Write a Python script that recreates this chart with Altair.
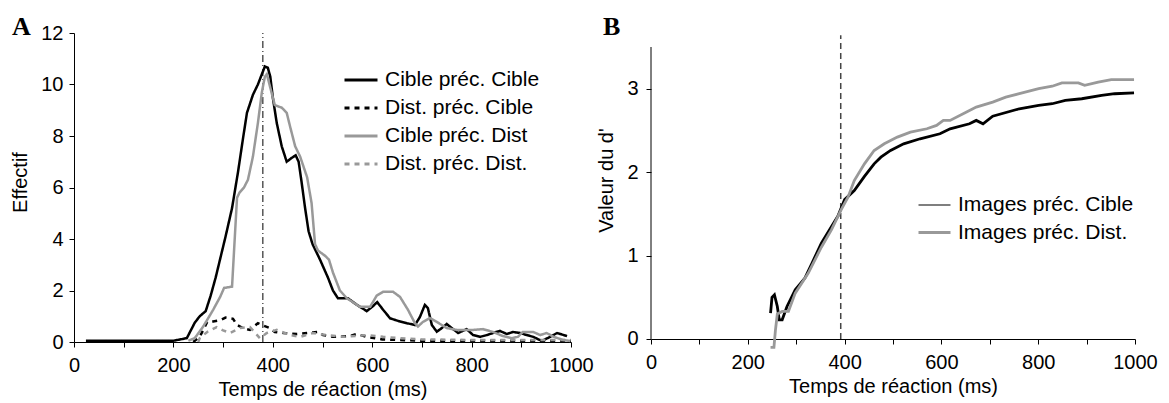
import altair as alt
import pandas as pd

# ---------------- Panel A : distributions of reaction times ----------------
seriesA = ["Cible préc. Cible", "Dist. préc. Cible", "Cible préc. Dist", "Dist. préc. Dist."]

cc_t = [24, 100, 200, 227, 243, 253, 265, 275, 285, 295, 305, 318, 330, 340, 348, 360, 370, 378,
        384, 390, 395, 400, 408, 418, 428, 438, 446, 452, 458, 465, 472, 480, 495, 511, 521, 531,
        551, 565, 575, 589, 602, 610, 622, 636, 652, 670, 686, 696, 706, 712, 720, 730, 740, 750,
        760, 773, 790, 803, 817, 831, 843, 857, 871, 883, 897, 911, 924, 941, 958, 972, 992]
cc_v = [0.05, 0.05, 0.05, 0.15, 0.75, 1.0, 1.2, 1.8, 2.5, 3.3, 4.1, 5.2, 6.6, 7.9, 8.9, 9.6, 10.0, 10.4,
        10.7, 10.65, 10.3, 9.5, 8.5, 7.6, 7.0, 7.15, 7.25, 7.0, 6.2, 5.2, 4.3, 3.8, 3.2, 2.5, 2.0, 1.7,
        1.7, 1.5, 1.37, 1.2, 1.4, 1.55, 1.25, 0.92, 0.82, 0.73, 0.66, 0.97, 1.44, 1.32, 0.66, 0.4, 0.54, 0.7,
        0.54, 0.35, 0.5, 0.27, 0.2, 0.27, 0.35, 0.43, 0.31, 0.39, 0.35, 0.27, 0.2, 0.04, 0.2, 0.35, 0.23]

dc_t = [240, 253, 268, 280, 294, 305, 320, 328, 340, 354, 370, 378, 394, 404, 421, 449, 469, 491,
        501, 521, 555, 569, 589, 620, 650, 700, 800, 900, 1000]
dc_v = [0.0, 0.2, 0.78, 0.8, 0.85, 0.95, 0.9, 0.66, 0.54, 0.47, 0.73, 0.66, 0.54, 0.39, 0.35, 0.31, 0.35, 0.39,
        0.27, 0.2, 0.23, 0.31, 0.2, 0.1, 0.08, 0.05, 0.05, 0.05, 0.05]

cd_t = [230, 243, 260, 280, 294, 302, 318, 328, 333, 342, 350, 360, 370, 378, 384, 388, 396, 404,
        418, 428, 435, 445, 455, 469, 478, 485, 491, 505, 513, 521, 535, 549, 575, 596, 609, 622,
        642, 656, 672, 686, 692, 702, 716, 730, 750, 770, 803, 823, 843, 863, 881, 893, 903, 924,
        938, 951, 965, 984, 998]
cd_v = [0.05, 0.15, 0.6, 1.25, 1.75, 2.1, 2.15, 5.6, 5.8, 6.0, 6.3, 7.2, 8.5, 9.7, 10.3, 10.4, 9.8, 9.2,
        9.1, 8.9, 8.35, 7.6, 7.2, 6.4, 5.4, 3.8, 3.55, 3.35, 3.2, 2.7, 2.0, 1.7, 1.37, 1.37, 1.8, 1.95,
        1.95, 1.75, 1.25, 0.73, 0.6, 0.78, 0.93, 0.78, 0.54, 0.47, 0.47, 0.5, 0.39, 0.23, 0.15, 0.2, 0.39, 0.39,
        0.27, 0.35, 0.2, 0.08, 0.04]

dd_t = [250, 253, 268, 287, 300, 314, 334, 354, 374, 388, 408, 435, 455, 481, 509, 541, 590, 622,
        656, 700, 800, 900, 1000]
dd_v = [0.0, 0.15, 0.39, 0.58, 0.45, 0.35, 0.54, 0.58, 0.15, 0.35, 0.47, 0.27, 0.2, 0.35, 0.27, 0.2, 0.27, 0.2,
        0.15, 0.1, 0.08, 0.08, 0.08]

colorsA = ["#000000", "#000000", "#999999", "#999999"]
dashesA = [[1, 0], [5, 5], [1, 0], [5, 5]]

vlineA_t = [380]
vlineA_top = [12]

# ---------------- Panel B : d' over time ----------------
seriesB = ["Images préc. Cible", "Images préc. Dist."]
bc_t = [247, 250, 255, 261, 265, 271, 281, 298, 318, 332, 352, 373, 386, 400, 420, 441, 461, 475,
        495, 522, 556, 597, 618, 658, 672, 686, 706, 761, 801, 829, 856, 890, 931, 958, 998]
bc_v = [0.31, 0.5, 0.53, 0.39, 0.23, 0.23, 0.39, 0.59, 0.73, 0.9, 1.15, 1.35, 1.47, 1.67, 1.78, 1.95, 2.1, 2.18,
        2.26, 2.34, 2.4, 2.46, 2.52, 2.58, 2.62, 2.58, 2.67, 2.76, 2.8, 2.82, 2.86, 2.88, 2.92, 2.94, 2.95]
bd_t = [247, 254, 257, 261, 271, 284, 298, 325, 352, 373, 393, 407, 420, 441, 461, 482, 509, 536,
        570, 590, 604, 618, 652, 672, 706, 733, 761, 801, 829, 849, 883, 896, 924, 951, 998]
bd_v = [-0.1, -0.1, 0.1, 0.3, 0.33, 0.33, 0.55, 0.79, 1.1, 1.31, 1.55, 1.7, 1.9, 2.1, 2.26, 2.34, 2.42, 2.48,
        2.52, 2.56, 2.62, 2.62, 2.72, 2.78, 2.84, 2.9, 2.94, 3.0, 3.03, 3.07, 3.07, 3.04, 3.08, 3.11, 3.11]
colorsB = ["#000000", "#999999"]
legend_widthsB = [1.2, 3]

vlineB_t = [392]
vlineB_top = [3.64]
axisB_top = [3.5]

# ---------------- build tables ----------------
def table(names, ts, vs):
    rows = []
    for name, t, v in zip(names, ts, vs):
        for i, (a, b) in enumerate(zip(t, v)):
            rows.append({"series": name, "t": a, "v": b, "ord": i})
    return pd.DataFrame(rows)

dfA = table(seriesA, [cc_t, dc_t, cd_t, dd_t], [cc_v, dc_v, cd_v, dd_v])
dfB = table(seriesB, [bc_t, bd_t], [bc_v, bd_v])

FONT = "Liberation Sans"
FS = 20
LFS = 21

def x_axis(offset=0):
    return alt.Axis(values=list(range(0, 1001, 100)), format="d",
                    labelExpr="datum.value % 200 == 0 ? datum.label : ''",
                    title="Temps de réaction (ms)", tickSize=5, labelPadding=8,
                    titlePadding=4, offset=offset, labelFlush=False)

def legend(x, y, size, rp, sw=None):
    kw = dict(title=None, orient="none", legendX=x, legendY=y, symbolType="stroke",
              symbolSize=size, labelFontSize=LFS, labelFont=FONT, labelColor="black",
              labelOffset=6, rowPadding=rp, labelLimit=0)
    if sw is not None:
        kw["symbolStrokeWidth"] = sw
    return alt.Legend(**kw)

# ---- Panel A ----
xA = alt.X("t:Q", scale=alt.Scale(domain=[0, 1000], nice=False), axis=x_axis())
yA = alt.Y("v:Q", scale=alt.Scale(domain=[0, 12], nice=False),
           axis=alt.Axis(values=[0, 2, 4, 6, 8, 10, 12], title="Effectif", tickSize=5,
                         labelPadding=6, titlePadding=10, titleY=149, labelFlush=False))

legA = legend(269, 29, 1089, -8, 3)
linesA = alt.Chart(dfA).mark_line(strokeWidth=2.5, strokeCap="butt").encode(
    x=xA, y=yA, order="ord:Q",
    color=alt.Color("series:N", scale=alt.Scale(domain=seriesA, range=colorsA), legend=legA),
    strokeDash=alt.StrokeDash("series:N", scale=alt.Scale(domain=seriesA, range=dashesA), legend=legA),
)

ruleA = alt.Chart(pd.DataFrame({"t": vlineA_t, "v0": [0], "v1": vlineA_top})).mark_rule(
    color="black", strokeWidth=1, strokeDash=[7, 3, 1, 3]).encode(
    x="t:Q", y="v0:Q", y2="v1:Q")

labA = alt.Chart(pd.DataFrame({"lab": ["A"]})).mark_text(
    font="Liberation Serif", fontWeight="bold", fontSize=26, align="left", baseline="alphabetic",
    color="black").encode(x=alt.value(-62), y=alt.value(2), text="lab:N")

chartA = alt.layer(ruleA, linesA, labA).properties(width=497, height=309)

# ---- Panel B ----
xB = alt.X("t:Q", scale=alt.Scale(domain=[0, 1000], nice=False), axis=x_axis(-3))
yB = alt.Y("v:Q", scale=alt.Scale(domain=[-0.036, 3.668], nice=False, zero=False),
           axis=alt.Axis(values=[0, 0.5, 1, 1.5, 2, 2.5, 3, 3.5], format="d", domain=False,
                         labelExpr="datum.value % 1 == 0 && datum.value < 3.5 ? datum.label : ''",
                         title="Valeur du d'", tickSize=5, labelPadding=8, titlePadding=10,
                         titleY=147, labelFlush=False))

legB = legend(266, 155, 1024, -9)
colorB = alt.Color("series:N", scale=alt.Scale(domain=seriesB, range=colorsB), legend=legB)

linesB = alt.Chart(dfB).mark_line(strokeWidth=2.8, clip=False).encode(
    x=xB, y=yB, order="ord:Q", color=colorB)

legendLayerB = alt.Chart(dfB).transform_filter("datum.t < 0").mark_line().encode(
    x=xB, y=yB, color=colorB,
    strokeWidth=alt.StrokeWidth("series:N", scale=alt.Scale(domain=seriesB, range=legend_widthsB),
                                legend=legB))

ruleB = alt.Chart(pd.DataFrame({"t": vlineB_t, "v0": [0], "v1": vlineB_top})).mark_rule(
    color="#444444", strokeWidth=1.5, strokeDash=[6, 4]).encode(
    x="t:Q", y="v0:Q", y2="v1:Q")

axisLineB = alt.Chart(pd.DataFrame({"t": [0], "v0": [0], "v1": axisB_top})).mark_rule(
    color="black", strokeWidth=1).encode(x="t:Q", y="v0:Q", y2="v1:Q")

labB = alt.Chart(pd.DataFrame({"lab": ["B"]})).mark_text(
    font="Liberation Serif", fontWeight="bold", fontSize=26, align="left", baseline="alphabetic",
    color="black").encode(x=alt.value(-48), y=alt.value(2), text="lab:N")

chartB = alt.layer(axisLineB, ruleB, linesB, legendLayerB, labB).properties(width=484, height=309)

chart = alt.hconcat(chartA, chartB, spacing=2).resolve_scale(
    color="independent", strokeDash="independent", strokeWidth="independent"
).resolve_legend(
    color="independent", strokeDash="independent", strokeWidth="independent"
).properties(
    padding={"left": 2, "top": 6, "right": 0, "bottom": 2}
).configure_view(stroke=None).configure_axis(
    grid=False, domainColor="black", tickColor="black", labelColor="black", titleColor="black",
    labelFont=FONT, titleFont=FONT, labelFontSize=FS, titleFontSize=20, titleFontWeight="normal",
    domainWidth=1, tickWidth=1
)

chart.save("out.html", embed_options={"renderer": "svg", "actions": False})
